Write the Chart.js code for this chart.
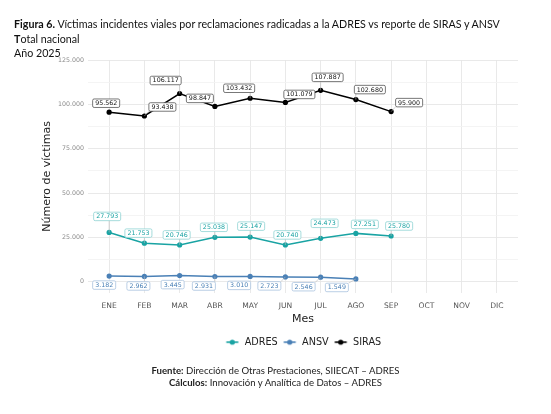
<!DOCTYPE html>
<html>
<head>
<meta charset="utf-8">
<script src="https://cdn.jsdelivr.net/npm/chart.js@4.4.1/dist/chart.umd.min.js"></script>
<style>
  html, body { margin: 0; padding: 0; background: #fff; }
  #wrap { position: relative; width: 551px; height: 414px; overflow: hidden; }
  #c { position: absolute; left: 0; top: 0; }
  .title { position: absolute; left: 14px; font-family: Lato, "Noto Sans", sans-serif; font-size: 10.7px; color: #111; white-space: nowrap; line-height: 14px; }
  .cap { position: absolute; left: 0; width: 551px; text-align: center; font-family: Lato, "Noto Sans", sans-serif; font-size: 9.6px; color: #222; white-space: nowrap; line-height: 12px; }
</style>
</head>
<body>
<div id="wrap">
  <canvas id="c" width="551" height="414"></canvas>
  <div class="title" style="top:16.5px"><b>Figura 6.</b> Víctimas incidentes viales por reclamaciones radicadas a la ADRES vs reporte de SIRAS y ANSV</div>
  <div class="title" style="top:31.5px"><b>T</b>otal nacional</div>
  <div class="title" style="top:46px">Año 2025</div>
  <div class="cap" style="top:365px"><b>Fuente:</b> Dirección de Otras Prestaciones, SIIECAT – ADRES</div>
  <div class="cap" style="top:377px"><b>Cálculos:</b> Innovación y Analítica de Datos – ADRES</div>
</div>
<script>
const months = ["ENE","FEB","MAR","ABR","MAY","JUN","JUL","AGO","SEP","OCT","NOV","DIC"];
const adres = [27793, 21753, 20746, 25038, 25147, 20740, 24473, 27251, 25780];
const ansv  = [3182, 2962, 3445, 2931, 3010, 2723, 2546, 1549];
const siras = [95562, 93438, 106117, 98847, 103432, 101079, 107887, 102680, 95900];
const yMajorStep = 25000;
const yMinorStep = 12500;

// label placement offsets (pixels, repel-like), kept separate from data
const labelOffsets = {
  ADRES: [[-2,-16],[-6,-10],[-3,-10],[-1,-10],[1,-11],[2,-10],[4,-15],[9,-9],[8,-10]],
  ANSV:  [[-5,9],[-6,9.5],[-7,9],[-11,9.5],[-11,9],[-16,9],[-17,9.5],[-19,8.5]],
  SIRAS: [[-3,-9],[18,-9],[-14,-13],[-15,-8],[-11,-10],[14,-8],[7,-13],[14,-10],[18,-9]]
};

const fmt = v => String(Math.round(v)).replace(/\B(?=(\d{3})+(?!\d))/g, ".");
const toPts = arr => arr.map((v, i) => ({x: i, y: v}));

const COL = {ADRES: "#19a3a3", ANSV: "#4a80b6", SIRAS: "#000000"};
const LBL = {
  ADRES: {text: "#19a3a3", border: "#8fd3d3"},
  ANSV:  {text: "#4a80b6", border: "#a9c3de"},
  SIRAS: {text: "#111111", border: "#555555"}
};

function legendIcon(color) {
  const c = document.createElement("canvas");
  c.width = 15; c.height = 8;
  const g = c.getContext("2d");
  g.strokeStyle = color; g.lineWidth = 1.6;
  g.beginPath(); g.moveTo(1.5, 4); g.lineTo(13.5, 4); g.stroke();
  g.fillStyle = color;
  g.beginPath(); g.arc(7.5, 4, 2.6, 0, Math.PI * 2); g.fill();
  return c;
}

const labelPlugin = {
  id: "repelLabels",
  afterDatasetsDraw(chart) {
    const ctx = chart.ctx;
    ctx.save();
    ctx.font = "6.3px 'DejaVu Sans'";
    ctx.textAlign = "center";
    ctx.textBaseline = "middle";
    chart.data.datasets.forEach((ds, di) => {
      const meta = chart.getDatasetMeta(di);
      const offs = labelOffsets[ds.label];
      const st = LBL[ds.label];
      meta.data.forEach((pt, i) => {
        const v = ds.data[i].y;
        const txt = fmt(v);
        const [dx, dy] = offs[i];
        const cx = pt.x + dx, cy = pt.y + dy;
        const w = ctx.measureText(txt).width + 5, h = 8.5;
        const bx = cx - w / 2, by = cy - h / 2;
        const ex = Math.max(bx, Math.min(pt.x, bx + w));
        const ey = Math.max(by, Math.min(pt.y, by + h));
        const dist = Math.hypot(pt.x - ex, pt.y - ey);
        if (dist > 5) {
          ctx.strokeStyle = "#bbbbbb"; ctx.lineWidth = 0.6;
          ctx.beginPath(); ctx.moveTo(ex, ey); ctx.lineTo(pt.x, pt.y); ctx.stroke();
        }
        ctx.fillStyle = "#ffffff";
        ctx.strokeStyle = st.border; ctx.lineWidth = 0.8;
        ctx.beginPath();
        ctx.roundRect(bx, by, w, h, 1.5);
        ctx.fill(); ctx.stroke();
        ctx.fillStyle = st.text;
        ctx.fillText(txt, cx, cy + 0.3);
      });
    });
    ctx.restore();
  }
};

new Chart(document.getElementById("c"), {
  type: "line",
  data: {
    datasets: [
      {label: "ADRES", data: toPts(adres), borderColor: COL.ADRES, backgroundColor: COL.ADRES},
      {label: "ANSV", data: toPts(ansv), borderColor: COL.ANSV, backgroundColor: COL.ANSV},
      {label: "SIRAS", data: toPts(siras), borderColor: COL.SIRAS, backgroundColor: COL.SIRAS}
    ]
  },
  options: {
    responsive: false,
    animation: false,
    devicePixelRatio: 1,
    layout: {padding: {left: 0, top: 60, right: 33, bottom: 57}},
    elements: {
      line: {borderWidth: 1.5, tension: 0},
      point: {radius: 2.6, borderWidth: 0, hoverRadius: 2.6}
    },
    scales: {
      x: {
        type: "linear", min: -0.6, max: 11.6,
        afterFit: s => { s.height = 40; },
        border: {display: false},
        grid: {color: "#e6e6e6", lineWidth: 0.9, drawTicks: false},
        ticks: {
          stepSize: 1, includeBounds: false, autoSkip: false, maxRotation: 0,
          padding: 8.5, color: "#555555",
          font: {family: "'DejaVu Sans'", size: 7.6},
          callback: v => months[v] ?? ""
        },
        title: {display: true, text: "Mes", color: "#222", font: {family: "'DejaVu Sans'", size: 11}, padding: {top: 0, bottom: 7.5}}
      },
      y: {
        type: "linear", min: -6250, max: 125000,
        afterFit: s => { s.width = 88; },
        border: {display: false},
        grid: {
          drawTicks: false, lineWidth: 0.9,
          color: c => {
            const v = c.tick ? c.tick.value : NaN;
            if (v < 0 || v % yMinorStep !== 0) return "rgba(0,0,0,0)";
            return v % yMajorStep === 0 ? "#e6e6e6" : "#f3f3f3";
          }
        },
        ticks: {
          stepSize: 6250, includeBounds: false, autoSkip: false, padding: 4, color: "#8a8a8a",
          font: {family: "'DejaVu Sans'", size: 6.3},
          callback: v => (v >= 0 && v % yMajorStep === 0 ? fmt(v) : "")
        },
        title: {display: true, text: "Número de víctimas", color: "#222", font: {family: "'DejaVu Sans'", size: 11}, padding: {top: 40.4, bottom: 0}}
      }
    },
    plugins: {
      legend: {
        position: "bottom",
        fullSize: false,
        labels: {
          usePointStyle: true,
          pointStyleWidth: 15,
          padding: 4.5,
          color: "#222",
          font: {family: "'DejaVu Sans'", size: 9.7},
          generateLabels: chart => chart.data.datasets.map((ds, i) => ({
            text: ds.label, datasetIndex: i, pointStyle: legendIcon(ds.borderColor),
            fillStyle: ds.borderColor, strokeStyle: ds.borderColor, lineWidth: 0, fontColor: "#222"
          }))
        }
      },
      tooltip: {enabled: false}
    }
  },
  plugins: [labelPlugin]
});
</script>
</body>
</html>
